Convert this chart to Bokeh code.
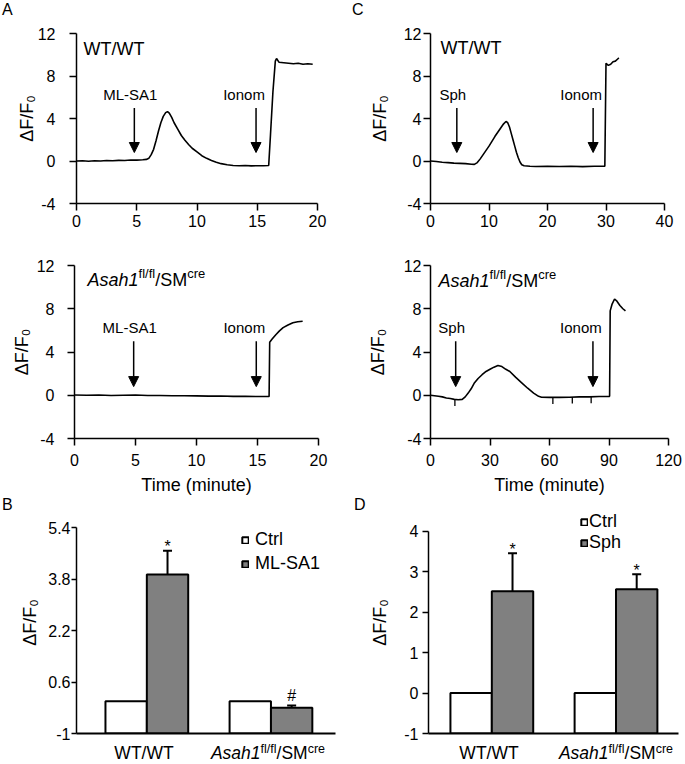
import numpy as np
from bokeh.plotting import figure
from bokeh.models import (Range1d, FixedTicker, Label, Arrow, NormalHead, Whisker, TeeHead,
                          ColumnDataSource, Legend, LegendItem, Div, Spacer)
from bokeh.layouts import column, row
from bokeh.embed import file_html
from bokeh.resources import INLINE

FONT = "Liberation Sans"

# ---------------- data ----------------
# Panel A: ML-SA1, WT/WT trace (time in minutes, dF/F0)
a_wt_t = [0, 0.5, 1, 1.5, 2, 2.5, 3, 3.5, 4, 4.5, 5, 5.5, 5.8, 6.0, 6.2, 6.4, 6.6, 6.8, 7.0, 7.2, 7.4,
          7.55, 7.7, 7.9, 8.1, 8.4, 8.7, 9.0, 9.3, 9.6, 10.0, 10.4, 10.8, 11.2, 11.6, 12.0, 12.5, 13.0,
          13.5, 14.0, 14.5, 15.0, 15.5, 15.95, 16.1, 16.3, 16.5, 16.6, 16.8, 17.2, 17.6, 18.0, 18.4,
          18.8, 19.2, 19.6]
a_wt_v = [0.0, 0.02, -0.03, 0.02, 0.0, 0.05, 0.02, 0.06, 0.05, 0.1, 0.08, 0.12, 0.15, 0.25, 0.6, 1.1,
          1.9, 2.8, 3.6, 4.2, 4.55, 4.65, 4.5, 4.1, 3.6, 3.0, 2.4, 1.95, 1.55, 1.2, 0.85, 0.5, 0.25,
          0.05, -0.12, -0.25, -0.35, -0.42, -0.45, -0.43, -0.46, -0.44, -0.45, -0.42, 2.5, 6.5, 9.4,
          9.65, 9.3, 9.25, 9.2, 9.15, 9.2, 9.1, 9.15, 9.1]
# Panel A: ML-SA1, Asah1 fl/fl / SMcre trace
a_ko_t = [0, 1, 2, 3, 4, 5, 6, 7, 8, 9, 10, 11, 12, 13, 14, 15, 15.95, 16.0, 16.2, 16.5, 16.8,
          17.1, 17.5, 17.9, 18.3, 18.7]
a_ko_v = [0.02, 0.0, 0.03, -0.02, 0.0, 0.02, -0.03, -0.02, -0.05, -0.05, -0.06, -0.08, -0.07, -0.1,
          -0.1, -0.12, -0.12, 4.9, 5.2, 5.6, 5.95, 6.25, 6.5, 6.7, 6.8, 6.85]
a_events = ["ML-SA1", "Ionom"]
a_wt_event_t = [4.8, 14.9]
a_ko_event_t = [4.85, 14.9]

# Panel C: Sph, WT/WT trace
c_wt_t = [0, 1, 2, 3, 4, 5, 6, 7, 7.5, 8.0, 8.5, 9.0, 9.5, 10.0, 10.5, 11.0, 11.5, 12.0, 12.5, 12.9,
          13.2, 13.5, 13.8, 14.1, 14.4, 14.7, 15.0, 15.3, 15.6, 16, 17, 18, 20, 22, 24, 26, 28, 29.8,
          30.0, 30.4, 30.8, 31.2, 31.6, 32.0, 32.2]
c_wt_v = [0.0, -0.05, -0.12, -0.15, -0.2, -0.22, -0.25, -0.3, -0.32, -0.15, 0.2, 0.6, 1.0, 1.4,
          1.85, 2.3, 2.7, 3.1, 3.5, 3.72, 3.6, 3.2, 2.6, 2.0, 1.4, 0.8, 0.3, -0.1, -0.35, -0.45, -0.5,
          -0.52, -0.5, -0.52, -0.5, -0.53, -0.5, -0.5, 9.2, 9.0, 9.1, 9.35, 9.4, 9.6, 9.7]
# Panel C: Sph, Asah1 fl/fl / SMcre trace
c_ko_t = [0, 2, 4, 6, 8, 10, 12, 14, 16, 17.5, 19, 20.5, 22, 24, 26, 28, 30, 32, 34, 36, 38, 40, 43,
          46, 49, 52, 54.5, 56, 60, 65, 70, 75, 80, 85, 90.3, 90.6, 91.5, 92.8, 94, 95.5, 97, 98.3]
c_ko_v = [0.0, -0.05, -0.1, -0.15, -0.25, -0.3, -0.38, -0.42, -0.38, -0.15, 0.2, 0.6, 1.1, 1.55,
          1.9, 2.2, 2.4, 2.6, 2.75, 2.65, 2.4, 2.2, 1.65, 1.15, 0.65, 0.2, -0.1, -0.18, -0.2, -0.2,
          -0.18, -0.15, -0.15, -0.12, -0.1, 7.8, 8.4, 8.9, 8.7, 8.3, 8.0, 7.8]
c_ko_marks_t = [12.3, 61.7, 71.5, 81.0]
c_events = ["Sph", "Ionom"]
c_wt_event_t = [4.5, 27.8]
c_ko_event_t = [12.7, 81.9]

# Panels B and D: summary bars
groups = ["WT/WT", "Asah1fl/fl/SMcre"]
ko_name_parts = [("Asah1", "it"), ("fl/fl", "sup"), ("/SM", "rm"), ("cre", "sup")]
b_series = ["Ctrl", "ML-SA1"]
b_ctrl = [0.0, 0.0]
b_trt = [3.94, -0.20]
b_trt_err = [0.74, 0.07]
b_marks = ["*", "#"]
b_yticks = [-1, 0.6, 2.2, 3.8, 5.4]
d_series = ["Ctrl", "Sph"]
d_ctrl = [0.0, 0.0]
d_trt = [2.52, 2.57]
d_trt_err = [0.94, 0.37]
d_marks = ["*", "*"]
d_yticks = [-1, 0, 1, 2, 3, 4]
trace_yticks = [-4, 0, 4, 8, 12]
panel_letters = ["A", "B", "C", "D"]

# ---------------- helpers ----------------
ARIAL = {'A': 667, 's': 500, 'a': 556, 'h': 556, '1': 556, 'f': 278, 'l': 222, '/': 278,
         'S': 667, 'M': 833, 'c': 500, 'r': 333, 'e': 556, 'W': 944, 'T': 611}


def tw(s, size):
    return sum(ARIAL.get(ch, 556) for ch in s) * size / 1000.0


def fmt(v):
    return "%g" % v


def base_fig(fw, fh, xr, yr, bl, br, bt, bb, tick_out=7):
    p = figure(frame_width=fw, frame_height=fh, x_range=xr, y_range=yr, title=None,
               min_border_left=bl, min_border_right=br, min_border_top=bt, min_border_bottom=bb,
               output_backend="svg", toolbar_location=None, tools="")
    p.outline_line_color = None
    p.grid.visible = False
    p.background_fill_color = "white"
    p.border_fill_color = "white"
    for ax in p.axis:
        ax.axis_line_color = "black"
        ax.axis_line_width = 1.5
        ax.major_tick_line_color = "black"
        ax.major_tick_line_width = 1.5
        ax.major_tick_in = 0
        ax.major_tick_out = tick_out
        ax.minor_tick_line_color = None
        ax.major_label_text_font = FONT
        ax.major_label_text_font_size = "16px"
        ax.major_label_text_color = "black"
        ax.axis_label_text_font = FONT
        ax.axis_label_text_font_size = "18px"
        ax.axis_label_text_font_style = "normal"
        ax.axis_label_text_color = "black"
    return p


def add_label(p, x, y, text, size, dx=0, dy=0, align="left", style="normal"):
    p.add_layout(Label(x=x, y=y, x_offset=dx, y_offset=dy, text=text, text_font=FONT,
                       text_font_size=f"{size}px", text_font_style=style, text_align=align,
                       text_baseline="alphabetic", text_color="black"))


def rich(p, x, y, dx, dy, size, sup_size):
    cur = dx
    rise = size * 0.36
    for t, k in ko_name_parts:
        s = sup_size if k == "sup" else size
        add_label(p, x, y, t, s, dx=cur, dy=dy + (rise if k == "sup" else 0),
                  style="italic" if k == "it" else "normal")
        cur += tw(t, s)


def rich_html(size, sup_size):
    out = ""
    for t, k in ko_name_parts:
        if k == "it":
            out += f"<i>{t}</i>"
        elif k == "sup":
            out += (f"<span style='font-size:{sup_size}px;vertical-align:{int(size*0.36)}px;"
                    f"line-height:0'>{t}</span>")
        else:
            out += t
    return out


def trace_panel(t, v, xmax, xstep, ev_names, ev_t, genotype, fw, fh, bl, br, bt, bb,
                ystand, ylab_stand, xstand, geno_xy, xlabel=None, marks=None):
    p = base_fig(fw, fh, Range1d(0, xmax), Range1d(-4, 12), bl, br, bt, bb)
    p.xaxis.ticker = FixedTicker(ticks=list(range(0, xmax + 1, xstep)))
    p.yaxis.ticker = FixedTicker(ticks=trace_yticks)
    p.yaxis.major_label_overrides = {k: fmt(k) for k in trace_yticks}
    p.yaxis.major_label_standoff = ystand
    p.yaxis.axis_label = "\u0394F/F\u2080"
    p.yaxis.axis_label_standoff = ylab_stand
    p.xaxis.major_label_standoff = xstand
    if xlabel:
        p.xaxis.axis_label = xlabel
        p.xaxis.axis_label_standoff = 6
    p.line(t, v, line_color="black", line_width=1.6)
    if marks:
        base = np.interp(marks, t, v)
        p.segment(x0=marks, y0=base, x1=marks, y1=base - 0.6, line_color="black", line_width=1.3)
    for name, te in zip(ev_names, ev_t):
        p.add_layout(Arrow(x_start=te, y_start=5.0, x_end=te, y_end=0.8, line_color="black",
                           line_width=1.5,
                           end=NormalHead(size=10, fill_color="black", line_color="black",
                                          line_width=1)))
        dx = -4 if name != "Ionom" else -12
        add_label(p, te, 6.3, name, 15, dx=dx, align="center")
    if genotype == groups[0]:
        add_label(p, 0, 12, genotype, 18, dx=geno_xy[0], dy=-geno_xy[1])
    else:
        rich(p, 0, 12, geno_xy[0], -geno_xy[1], 18, 13)
    return p


def bar_panel(ctrl, trt, err, marks, series, yticks, yr, xr, fw, fh, bl, br, bt, bb, tick_out,
              ystand, ylab_stand, legend_loc, legend_spacing, legend_standoff, mark_dy):
    p = base_fig(fw, fh, xr, yr, bl, br, bt, bb, tick_out=tick_out)
    p.xaxis.ticker = FixedTicker(ticks=[])
    p.xaxis.axis_line_width = 2
    p.xaxis.major_tick_out = 0
    p.xaxis.major_label_standoff = 0
    p.yaxis.ticker = FixedTicker(ticks=yticks)
    p.yaxis.bounds = (yticks[0], yticks[-1])
    p.yaxis.major_label_overrides = {k: fmt(k) for k in yticks}
    p.yaxis.major_label_standoff = ystand
    p.yaxis.axis_label = "\u0394F/F\u2080"
    p.yaxis.axis_label_standoff = ylab_stand
    n = len(ctrl)
    xc = [3 * i + 0.5 for i in range(n)]
    xt = [3 * i + 1.5 for i in range(n)]
    r1 = p.vbar(x=xc, width=1, bottom=yr.start, top=ctrl, fill_color="white",
                line_color="black", line_width=2)
    r2 = p.vbar(x=xt, width=1, bottom=yr.start, top=trt, fill_color="#808080",
                line_color="black", line_width=2)
    up = [a + e for a, e in zip(trt, err)]
    src = ColumnDataSource(dict(x=xt, lo=trt, up=up))
    p.add_layout(Whisker(source=src, base="x", lower="lo", upper="up", dimension="height",
                         line_color="black", line_width=2,
                         upper_head=TeeHead(size=9, line_color="black", line_width=2),
                         lower_head=None))
    for x, u, m, md in zip(xt, up, marks, mark_dy):
        add_label(p, x, u, m, 16, dy=md, align="center")
    leg = Legend(items=[LegendItem(label=series[0], renderers=[r1]),
                        LegendItem(label=series[1], renderers=[r2])],
                 location=legend_loc, glyph_width=8, glyph_height=8, label_height=20,
                 label_standoff=legend_standoff, spacing=legend_spacing, padding=0, margin=0,
                 border_line_color=None, background_fill_alpha=0,
                 label_text_font=FONT, label_text_font_size="18px", label_text_color="black")
    p.add_layout(leg)
    return p


def text_div(html, w, h, size, lh, pad_top=0, align="left"):
    return Div(text=html, width=w, height=h, margin=0,
               styles={"font-family": FONT, "font-size": f"{size}px", "line-height": f"{lh}px",
                       "color": "black", "text-align": align, "padding-top": f"{pad_top}px",
                       "box-sizing": "border-box", "white-space": "nowrap"})


def sp(w, h):
    return Spacer(width=w, height=h, margin=0)


# ---------------- panels ----------------
a1 = trace_panel(a_wt_t, a_wt_v, 20, 5, a_events, a_wt_event_t, groups[0],
                 241, 170, 76, 23, 13, 37, 14, -2, 4, (7, 15))
c1 = trace_panel(c_wt_t, c_wt_v, 40, 10, c_events, c_wt_event_t, groups[0],
                 234, 170, 90, 20, 13, 37, 2, 11, 4, (10, 14))
a2 = trace_panel(a_ko_t, a_ko_v, 20, 5, a_events, a_ko_event_t, groups[1],
                 244, 173, 74, 22, 25, 61, 13, 2, 8, (13, 14), xlabel="Time (minute)")
c2 = trace_panel(c_ko_t, c_ko_v, 120, 30, c_events, c_ko_event_t, groups[1],
                 238, 173, 90, 16, 25, 61, 2, 13, 8, (8, 15), xlabel="Time (minute)",
                 marks=c_ko_marks_t)
# both bar panels share frame top (row alignment); the axes are bounded to their tick span
b = bar_panel(b_ctrl, b_trt, b_trt_err, b_marks, b_series, b_yticks, Range1d(-1, 5.9),
              Range1d(-0.70, 5.56), 259, 222, 76, 5, 0, 10, 5, 1, 5,
              (165, 159), 3, 6, [4, 10])
d = bar_panel(d_ctrl, d_trt, d_trt_err, d_marks, d_series, d_yticks, Range1d(-1, 4.495),
              Range1d(-0.53, 5.51), 250, 222, 88, 6, 0, 10, 6, 4, 11,
              (152, 180), 0, 1, [4, 4])

letters1 = row(sp(2, 20), text_div(panel_letters[0], 40, 20, 16, 20), sp(310, 20),
               text_div(panel_letters[2], 40, 20, 16, 20), spacing=0)
letters2 = row(sp(2, 12), text_div(panel_letters[1], 40, 12, 16, 12), sp(312, 12),
               text_div(panel_letters[3], 40, 12, 16, 12), spacing=0)
cat_html = [groups[0], rich_html(17.5, 12.5)]
cats = row(sp(82, 20),
           text_div(cat_html[0], 124, 20, 17.5, 20, 0, "center"),
           text_div(cat_html[1], 124, 20, 17.5, 20, 0, "center"),
           sp(97, 20),
           text_div(cat_html[0], 124, 20, 17.5, 20, 0, "center"),
           sp(3, 20),
           text_div(cat_html[1], 124, 20, 17.5, 20, 0, "center"), spacing=0)

layout = column(letters1, row(a1, c1, spacing=0), row(a2, c2, spacing=0), letters2,
                row(b, d, spacing=0), cats, spacing=0)

open("out.html", "w").write(file_html(layout, INLINE))
